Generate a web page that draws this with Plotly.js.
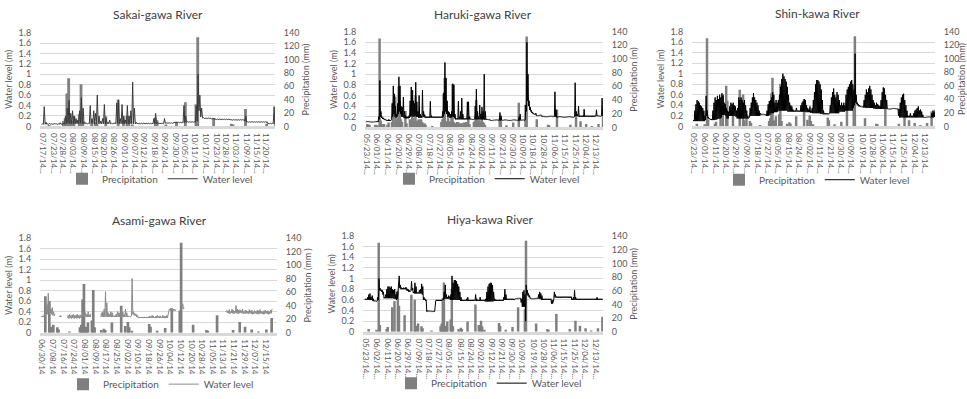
<!DOCTYPE html>
<html><head><meta charset="utf-8">
<script src="https://cdn.plot.ly/plotly-3.0.1.min.js"></script>
<style>html,body{margin:0;padding:0;background:#fff}#chart{width:967px;height:399px}</style>
</head><body><div id="chart"></div>
<script>
// Day offsets are counted from 05/23/2014 (day 0)
const startDate = [2014, 4, 23];

// Daily precipitation (mm), shared rain gauge
const precipDay = [2, 9, 11, 12, 18, 19, 23, 25, 28, 29, 34, 40, 43, 44, 46, 49, 50, 58, 66, 67, 68, 69, 70, 71, 72, 75, 76, 77, 82, 84, 85, 90, 97, 100, 102, 103, 105, 118, 119, 124, 130, 135, 141, 142, 151, 161, 162, 169, 181, 186, 190, 195, 200, 206, 210];
const precipMm = [4, 3, 130, 10, 4, 7, 36, 45, 60, 38, 24, 54, 47, 9, 12, 8, 5, 2, 8, 12, 49, 72, 9, 8, 15, 18, 63, 8, 4, 6, 4, 15, 40, 10, 16, 8, 3, 13, 9, 3, 7, 36, 33, 133, 12, 4, 3, 26, 4, 16, 9, 5, 2, 5, 22];
// Additional small daily rain seen only in the Haruki-gawa panel
const harukiExtraDay = [0, 1, 7, 8, 13, 14, 15, 22, 26, 27, 30, 31, 35, 38, 39, 41, 42, 45, 47, 48, 51, 52, 73, 74, 78, 80, 81, 83, 86, 88, 91, 95, 96, 98, 99, 101, 104];
const harukiExtraMm = [5, 4, 4, 3, 5, 4, 5, 8, 10, 14, 12, 8, 6, 12, 10, 14, 9, 10, 8, 12, 6, 4, 9, 7, 6, 8, 8, 6, 7, 8, 5, 8, 10, 9, 12, 8, 6];

// Water level (m): daily low and daily high, first value on day *Start
const sakaiStart = 54;
const sakaiLow = [.04,.04,.04,.04,.04,.04,.04,.04,.04,.04,.04,.04,.04,.04,.05,.06,.05,.05,.05,.05,.05,.05,.06,.05,.05,.05,.05,.05,.05,.05,.05,.05,.05,.05,.05,.05,.05,.05,.05,.05,.05,.05,.05,.06,.05,.05,.05,.05,.05,.05,.05,.05,.05,.05,.05,.05,.05,.05,.05,.05,.05,.05,.05,.05,.05,.05,.05,.05,.05,.05,.06,.06,.06,.06,.06,.07,.07,.07,.07,.07,.07,.07,.08,.08,.08,.08,.08,.08,.1,.3,.18,.16,.15,.15,.15,.15,.14,.14,.13,.13,.13,.13,.13,.13,.13,.13,.13,.12,.12,.12,.12,.12,.12,.12,.12,.1,.08,.08,.08,.08,.08,.08,.08,.08,.08,.08,.08,.08,.05,.05,.05,.05,.05];
const sakaiHigh = [.05,.38,.08,.05,.06,.05,.05,.06,.05,.05,.07,.05,.06,.2,.35,.5,.25,.3,.2,.15,.12,.3,.55,.35,.08,.06,.06,.4,.15,.3,.25,.6,.2,.1,.15,.42,.15,.08,.12,.06,.06,.07,.45,.5,.15,.42,.2,.12,.4,.2,.3,.85,.35,.08,.06,.06,.06,.06,.06,.06,.06,.06,.06,.15,.25,.08,.06,.06,.06,.15,.07,.07,.07,.07,.07,.08,.08,.08,.08,.08,.4,.2,.09,.09,.09,.09,.09,.4,1.0,.6,.35,.17,.16,.16,.16,.16,.15,.16,.14,.14,.14,.14,.14,.14,.14,.14,.14,.13,.13,.13,.13,.13,.13,.13,.13,.2,.09,.09,.09,.09,.09,.09,.09,.09,.09,.09,.09,.09,.06,.06,.06,.38,.22];

const harukiStart = -1;
const harukiLow = [.1,.1,.1,.1,.1,.1,.1,.1,.1,.1,.1,.1,.15,.2,.18,.16,.15,.14,.13,.12,.12,.12,.12,.15,.2,.25,.2,.18,.2,.25,.3,.25,.2,.2,.18,.17,.17,.17,.17,.18,.2,.22,.2,.2,.22,.2,.2,.18,.18,.18,.18,.2,.19,.18,.18,.18,.18,.18,.18,.18,.18,.18,.18,.18,.18,.18,.18,.18,.18,.2,.25,.3,.25,.2,.2,.18,.18,.2,.2,.17,.15,.15,.15,.15,.15,.15,.15,.15,.15,.15,.15,.15,.15,.15,.15,.15,.15,.15,.15,.15,.15,.15,.15,.15,.15,.15,.14,.14,.14,.14,.14,.13,.13,.13,.13,.13,.13,.13,.13,.13,.13,.13,.13,.13,.13,.13,.13,.13,.13,.13,.13,.13,.13,.13,.13,.13,.13,.13,.13,.13,.13,.13,.14,.3,.5,.4,.33,.3,.27,.25,.24,.24,.22,.22,.22,.22,.22,.2,.2,.2,.2,.2,.2,.2,.2,.2,.2,.2,.2,.2,.19,.19,.19,.19,.19,.19,.19,.19,.19,.19,.19,.19,.19,.19,.19,.19,.2,.21,.21,.21,.2,.2,.2,.2,.2,.2,.2,.2,.2,.2,.2,.2,.2,.2,.2,.21,.21,.21,.21,.21,.22,.22];
const harukiHigh = [.11,.11,.11,.11,.11,.11,.11,.11,.11,.11,.12,.2,.88,.3,.2,.18,.16,.15,.14,.14,.15,.14,.15,.45,.78,.63,.4,.25,.45,.95,.78,.4,.38,.57,.3,.22,.2,.2,.22,.5,.76,.7,.5,.45,.85,.48,.3,.6,.25,.22,.7,.3,.24,.2,.2,.2,.2,.49,.22,.2,.2,.2,.2,.2,.2,.2,.2,.2,.3,.65,1.22,.93,.5,.3,.28,.25,.3,.82,.8,.25,.17,.17,.49,.2,.3,.55,.25,.17,.17,.17,.48,.48,.2,.16,.16,.16,.16,.4,.72,.3,.2,.42,.25,.38,.3,1.0,.3,.15,.15,.15,.15,.14,.14,.14,.14,.14,.14,.14,.14,.28,.22,.14,.14,.14,.14,.14,.14,.14,.14,.14,.14,.14,.14,.14,.14,.14,.2,.25,.14,.14,.14,.14,.42,1.6,1.0,.5,.38,.32,.29,.26,.25,.27,.23,.23,.23,.23,.23,.21,.21,.21,.21,.21,.21,.21,.21,.21,.21,.21,.67,.33,.2,.2,.2,.2,.2,.2,.2,.2,.2,.2,.2,.2,.2,.2,.2,.2,.84,.3,.25,.4,.22,.22,.22,.22,.34,.22,.22,.22,.22,.22,.22,.22,.22,.22,.22,.33,.22,.22,.22,.22,.55,.25];

const shinStart = -1;
const shinLow = [.1,.1,.1,.1,.1,.1,.1,.1,.1,.1,.1,.12,.2,.16,.14,.13,.12,.12,.12,.12,.13,.13,.14,.15,.15,.17,.22,.22,.22,.2,.15,.15,.2,.2,.2,.2,.2,.2,.18,.15,.15,.15,.15,.15,.15,.15,.15,.15,.15,.15,.18,.2,.2,.2,.2,.2,.2,.2,.2,.2,.22,.22,.22,.22,.22,.2,.2,.2,.22,.25,.25,.25,.27,.27,.27,.28,.3,.3,.3,.3,.3,.3,.3,.3,.28,.28,.28,.28,.28,.28,.28,.28,.28,.28,.28,.28,.28,.28,.28,.28,.27,.27,.27,.27,.26,.26,.25,.25,.25,.25,.25,.25,.25,.24,.24,.23,.23,.23,.23,.23,.23,.25,.25,.25,.25,.25,.25,.25,.25,.25,.28,.28,.28,.28,.28,.3,.3,.3,.3,.3,.3,.3,.35,.4,.45,.42,.4,.38,.37,.37,.37,.36,.36,.35,.35,.35,.35,.35,.35,.35,.34,.34,.33,.33,.33,.33,.33,.33,.33,.33,.33,.33,.33,.33,.33,.33,.33,.33,.33,.33,.33,.33,.2,.17,.17,.17,.17,.17,.17,.17,.17,.17,.17,.17,.17,.17,.17,.17,.17,.17,.17,.17,.17,.17,.17,.17,.17,.17,.17,.17,.17,.17,.17,.17,.18,.18];
const shinHigh = [.12,.3,.42,.5,.48,.45,.4,.38,.35,.3,.2,.58,.3,.18,.15,.14,.14,.3,.45,.55,.5,.58,.52,.6,.55,.63,.6,.45,.42,.35,.3,.28,.38,.45,.42,.45,.4,.38,.3,.35,.55,.5,.55,.5,.45,.5,.4,.3,.2,.18,.35,.45,.55,.63,.55,.5,.45,.4,.3,.25,.23,.23,.23,.23,.23,.3,.42,.48,.5,.55,.65,.6,.45,.5,.45,.5,.6,.75,.9,1.0,.95,.9,.85,.75,.6,.45,.4,.38,.32,.3,.3,.35,.3,.3,.3,.4,.45,.48,.52,.5,.4,.35,.32,.38,.3,.35,.5,.65,.8,.88,.88,.85,.8,.7,.5,.3,.25,.25,.25,.25,.25,.4,.55,.65,.72,.6,.55,.65,.6,.5,.4,.45,.4,.45,.4,.6,.7,.75,.8,.85,.88,.8,.7,1.38,.6,.45,.42,.4,.38,.38,.38,.5,.6,.7,.65,.72,.77,.7,.6,.5,.45,.4,.45,.42,.4,.38,.5,.65,.74,.72,.6,.5,.34,.34,.34,.34,.34,.34,.34,.34,.34,.34,.33,.45,.55,.6,.62,.5,.4,.3,.2,.2,.25,.2,.2,.25,.3,.32,.35,.38,.3,.32,.28,.22,.18,.18,.18,.18,.18,.18,.18,.25,.3,.28,.32];

const asamiStart = 37;
const asamiLow = [.3,.3,.3,.32,.35,.35,.38,.38,.35,.33,.32,null,null,null,.3,.3,null,null,null,null,.28,.27,.28,.27,.28,.27,.28,.27,.28,.27,.28,.3,.3,.3,.3,.3,.3,.3,null,null,null,null,null,null,null,.3,.3,.3,.3,.3,.3,.3,.3,.3,.3,.3,.3,.3,.3,.3,.3,.3,.3,.3,.3,.3,.3,.3,.32,.35,.33,.32,.3,.28,.28,.28,.28,.28,.28,.28,.28,.28,.28,.28,.28,.28,.28,.28,.28,.28,.28,.28,.28,.28,.28,.28,.4,.42,.42,.42,.42,.42,null,null,null,.5,.48,.45,null,null,null,null,null,null,null,null,null,null,null,null,null,null,null,null,null,null,null,null,null,null,null,null,null,null,null,null,null,null,null,.4,.38,.37,.36,.38,.37,.36,.38,.37,.36,.37,.38,.37,.36,.37,.36,.37,.36,.37,.36,.35,.36,.37,.36,.35,.36,.37,.36,.35,.36,.37,.36,.35,.36,.37];
const asamiHigh = [.31,.32,.35,.62,.55,.75,.6,.45,.48,.4,.35,null,null,null,.33,.32,null,null,null,null,.33,.35,.33,.34,.35,.33,.34,.35,.33,.34,.32,.4,.36,.38,.35,.4,.34,.36,null,null,null,null,null,null,null,.38,.4,.45,.78,.57,.38,.35,.4,.38,.33,.32,.35,.4,.38,.38,.45,.4,.35,.45,.38,.32,.31,.32,1.03,.4,.37,.35,.33,.3,.3,.3,.3,.3,.3,.3,.3,.32,.31,.33,.32,.3,.32,.33,.31,.32,.3,.33,.32,.31,.33,.32,.45,.47,.46,.45,.45,.44,null,null,null,.62,.55,.48,null,null,null,null,null,null,null,null,null,null,null,null,null,null,null,null,null,null,null,null,null,null,null,null,null,null,null,null,null,null,null,.42,.42,.44,.4,.45,.43,.41,.52,.45,.43,.44,.42,.45,.4,.43,.42,.41,.44,.42,.43,.4,.42,.41,.43,.42,.44,.41,.4,.42,.43,.41,.42,.4,.43,.45];

const hiyaStart = -1;
const hiyaLow = [.6,.6,.6,.6,.6,.6,.6,.58,.57,.57,.57,.58,.6,.78,.77,.75,.7,.63,.63,.63,.63,.63,.63,.63,.63,.63,.62,.62,.6,.62,.8,.82,.8,.8,.8,.8,.8,.78,.77,.75,.75,.78,.78,.73,.72,.72,.72,.72,.72,.72,.72,.7,.6,.6,.58,.38,.38,.38,.38,.38,.38,.38,.38,.58,.58,.58,.58,.58,.58,.6,.6,.62,.62,.62,.62,.62,.6,.6,.6,.6,.6,.6,.6,.6,.6,.58,.58,.58,.58,.58,.58,.58,.58,.58,.58,.58,.58,.58,.58,.58,.58,.58,.58,.58,.58,.58,.58,.57,.57,.57,.57,.57,.57,.57,.57,.58,.58,.58,.58,.58,.58,.58,.58,.58,.6,.6,.6,.6,.6,.6,.6,.6,.6,.6,.62,.62,.62,.62,.62,.55,.47,.47,.47,.2,.7,.68,.65,.62,.62,.62,.62,.62,.62,.62,.62,.62,.62,.6,.6,.6,.6,.6,.6,.6,.6,.6,.53,.53,.6,.65,.64,.64,.64,.64,.64,.64,.64,.64,.64,.64,.64,.64,.64,.64,.6,.6,.6,.6,.6,.6,.6,.6,.6,.6,.6,.6,.6,.6,.6,.6,.6,.6,.6,.6,.6,.6,.6,.6,.6,.6,.6,.6];
const hiyaHigh = [.62,.62,.65,.7,.72,.65,.68,.62,.58,.58,.58,.65,1.0,.82,.79,.78,.75,.65,.7,.8,.85,.85,.83,.85,.8,.78,.8,.7,.75,.8,1.05,.88,.83,.82,.83,.82,.84,.81,.8,.78,.77,.95,.82,.75,.92,.85,.74,.74,.78,.8,.9,.85,.65,.62,.6,.4,.39,.39,.39,.39,.39,.39,.58,.6,.6,.6,.6,.6,.6,.62,.75,.88,.7,.65,.68,.66,.7,1.05,.92,.97,.97,.95,.9,.85,.75,.65,.6,.6,.6,.6,.62,.65,.6,.6,.6,.6,.6,.6,.7,.62,.6,.6,.65,.6,.6,.6,.6,.62,.75,.85,.9,.92,.92,.88,.75,.62,.6,.6,.6,.6,.6,.6,.6,.65,.8,.7,.62,.62,.62,.62,.62,.62,.62,.62,.63,.63,.63,.63,.63,.62,.75,.78,.7,.88,.78,.72,.68,.63,.63,.63,.63,.63,.63,.63,.7,.75,.72,.68,.62,.62,.62,.62,.62,.62,.62,.62,.6,.55,.75,.7,.66,.66,.66,.66,.66,.66,.66,.66,.66,.66,.66,.66,.66,.66,.62,.65,.78,.65,.62,.62,.62,.62,.62,.62,.62,.62,.62,.62,.62,.62,.62,.62,.62,.62,.62,.62,.65,.62,.62,.62,.62,.62];

// Tick labels
const sakaiTicks = ['07/17/14','07/23/14','07/28/14','08/03/14','08/09/14','08/15/14','08/20/14','08/26/14','09/01/14','09/07/14','09/12/14','09/18/14','09/24/14','09/30/14','10/05/14','10/11/14','10/17/14','10/23/14','10/28/14','11/03/14','11/09/14','11/15/14','11/20/14'];
const harukiTicks = ['05/23/14','06/01/14','06/11/14','06/20/14','06/29/14','07/08/14','07/18/14','07/27/14','08/05/14','08/15/14','08/24/14','09/02/14','09/11/14','09/21/14','09/30/14','10/09/14','10/18/14','10/28/14','11/06/14','11/15/14','11/25/14','12/04/14','12/13/14'];
const shinTicks = ['05/23/14','06/01/14','06/11/14','06/20/14','06/29/14','07/09/14','07/18/14','07/27/14','08/05/14','08/15/14','08/24/14','09/02/14','09/11/14','09/21/14','09/30/14','10/09/14','10/19/14','10/28/14','11/06/14','11/15/14','11/25/14','12/04/14','12/13/14'];
const asamiTicks = ['06/30/14','07/08/14','07/16/14','07/24/14','08/01/14','08/09/14','08/17/14','08/25/14','09/02/14','09/10/14','09/18/14','09/26/14','10/04/14','10/12/14','10/20/14','10/28/14','11/05/14','11/13/14','11/21/14','11/29/14','12/07/14','12/15/14'];
const hiyaTicks = ['05/23/14','06/02/14','06/11/14','06/20/14','06/29/14','07/09/14','07/18/14','07/27/14','08/05/14','08/15/14','08/24/14','09/02/14','09/12/14','09/21/14','09/30/14','10/09/14','10/19/14','10/28/14','11/06/14','11/15/14','11/25/14','12/04/14','12/13/14'];

const leftTicks = [0, 0.2, 0.4, 0.6, 0.8, 1, 1.2, 1.4, 1.6, 1.8];
const rightTicks = [0, 20, 40, 60, 80, 100, 120, 140];

// ---------- building ----------
const W = 967, H = 399;
const t0 = Date.UTC(startDate[0], startDate[1], startDate[2]);
function dayOf(lbl) {
  const p = lbl.split('/');
  return (Date.UTC(2000 + (+p[2]), +p[0] - 1, +p[1]) - t0) / 864e5;
}
const FONT = 'Lato, "Open Sans", "DejaVu Sans", sans-serif';
const GRAY = '#595959';

const panels = [
  {name: 'Sakai-gawa River', start: sakaiStart, low: sakaiLow, high: sakaiHigh, ticks: sakaiTicks, dots: true, bw: 1.6,
   pd: precipDay, pm: precipMm,
   box: [40, 275, 33, 128], range: [53.3, 186.2], line: '#3a3a3a', rtitle: 'Precipitation (mm)', leg: [160, 181], tit: [158, 15]},
  {name: 'Haruki-gawa River', start: harukiStart, low: harukiLow, high: harukiHigh, ticks: harukiTicks, dots: true, bw: 2.2,
   pd: precipDay.concat(harukiExtraDay), pm: precipMm.concat(harukiExtraMm),
   box: [365, 603, 32, 129], range: [-1.5, 210.5], line: '#000000', rtitle: 'Precipitation (m)', leg: [487, 181], tit: [483, 15]},
  {name: 'Shin-kawa River', start: shinStart, low: shinLow, high: shinHigh, ticks: shinTicks, dots: true, bw: 2.2,
   pd: precipDay, pm: precipMm,
   box: [692, 935, 32, 128], range: [-1.8, 213.5], line: '#000000', rtitle: 'Precipitation (mm)', leg: [817, 182], tit: [817, 14]},
  {name: 'Asami-gawa River', start: asamiStart, low: asamiLow, high: asamiHigh, ticks: asamiTicks, dots: false, bw: 2.0,
   pd: precipDay, pm: precipMm,
   box: [40, 277, 241, 337], range: [36.5, 214.5], line: '#8a8a8a', rtitle: 'Precipitation (mm )', leg: [161, 389], tit: [159, 223]},
  {name: 'Hiya-kawa River', start: hiyaStart, low: hiyaLow, high: hiyaHigh, ticks: hiyaTicks, dots: true, bw: 2.2,
   pd: precipDay, pm: precipMm,
   box: [363, 603, 239, 336], range: [-2.5, 211], line: '#000000', rtitle: 'Precipitation (mm)', leg: [489, 388], tit: [490, 222]}
];

const data = [];
const layout = {
  width: W, height: H, margin: {l: 0, r: 0, t: 0, b: 0},
  paper_bgcolor: '#ffffff', plot_bgcolor: 'rgba(0,0,0,0)',
  font: {family: FONT, color: GRAY, size: 9},
  showlegend: true, annotations: [], barmode: 'overlay'
};

panels.forEach((p, k) => {
  const n = k + 1;
  const xa = n === 1 ? 'x' : 'x' + n;
  const yP = 'y' + (2 * k + 1 === 1 ? '' : 2 * k + 1);
  const yW = 'y' + (2 * k + 2);
  const legName = n === 1 ? 'legend' : 'legend' + n;
  const xd = [p.box[0] / W, p.box[1] / W];
  const yd = [1 - p.box[3] / H, 1 - p.box[2] / H];

  const wx = [], wy = [];
  p.low.forEach((v, i) => {
    wx.push(p.start + i + 0.2, p.start + i + 0.7);
    wy.push(v, p.high[i]);
  });

  data.push({
    type: 'bar', name: 'Precipitation', x: p.pd.map(d => d + 0.5), y: p.pm,
    width: p.bw, marker: {color: '#7f7f7f', line: {width: 0}},
    xaxis: xa, yaxis: yP, legend: legName, hoverinfo: 'skip'
  });
  data.push({
    type: 'scatter', mode: 'lines', name: 'Water level', x: wx, y: wy,
    line: {color: p.line, width: 1}, connectgaps: false,
    xaxis: xa, yaxis: yW, legend: legName, hoverinfo: 'skip'
  });

  const xKey = n === 1 ? 'xaxis' : 'xaxis' + n;
  layout[xKey] = {
    domain: xd, anchor: yP, range: p.range, showgrid: false, zeroline: false,
    showline: true, linecolor: '#d9d9d9', linewidth: 3,
    tickmode: 'array', tickvals: p.ticks.map(dayOf), ticktext: p.ticks.map(t => p.dots ? t + '...' : t),
    tickangle: 90, ticks: 'outside', ticklen: 2, tickcolor: 'rgba(0,0,0,0)',
    tickfont: {size: 8, color: GRAY, family: FONT}, fixedrange: true
  };
  const yPKey = 'yaxis' + (2 * k + 1 === 1 ? '' : 2 * k + 1);
  const yWKey = 'yaxis' + (2 * k + 2);
  layout[yPKey] = {
    domain: yd, anchor: xa, side: 'right', range: [0, 140],
    tickmode: 'array', tickvals: rightTicks, showgrid: false, zeroline: false, showline: false,
    ticks: 'outside', ticklen: 6, tickcolor: 'rgba(0,0,0,0)',
    tickfont: {size: 9, color: GRAY, family: FONT},
    title: {text: p.rtitle, font: {size: 9, color: GRAY, family: FONT}, standoff: 4}
  };
  layout[yWKey] = {
    overlaying: yP, anchor: xa, side: 'left', range: [0, 1.8],
    tickmode: 'array', tickvals: leftTicks, showgrid: true, gridcolor: '#d9d9d9', gridwidth: 1,
    zeroline: false, showline: false,
    ticks: 'outside', ticklen: 6, tickcolor: 'rgba(0,0,0,0)',
    tickfont: {size: 9, color: GRAY, family: FONT},
    title: {text: 'Water level (m)', font: {size: 9, color: GRAY, family: FONT}, standoff: 4}
  };
  layout[legName] = {
    orientation: 'h', x: p.leg[0] / W, xanchor: 'center', y: 1 - p.leg[1] / H, yanchor: 'middle',
    font: {size: 10, color: GRAY, family: FONT}, bgcolor: 'rgba(0,0,0,0)', itemwidth: 30, tracegroupgap: 0
  };
  layout.annotations.push({
    text: p.name, xref: 'paper', yref: 'paper', x: p.tit[0] / W, y: 1 - p.tit[1] / H,
    xanchor: 'center', yanchor: 'middle', showarrow: false,
    font: {size: 12, color: '#404040', family: FONT}
  });
});

Plotly.newPlot('chart', data, layout, {staticPlot: true, displayModeBar: false});
</script></body></html>
